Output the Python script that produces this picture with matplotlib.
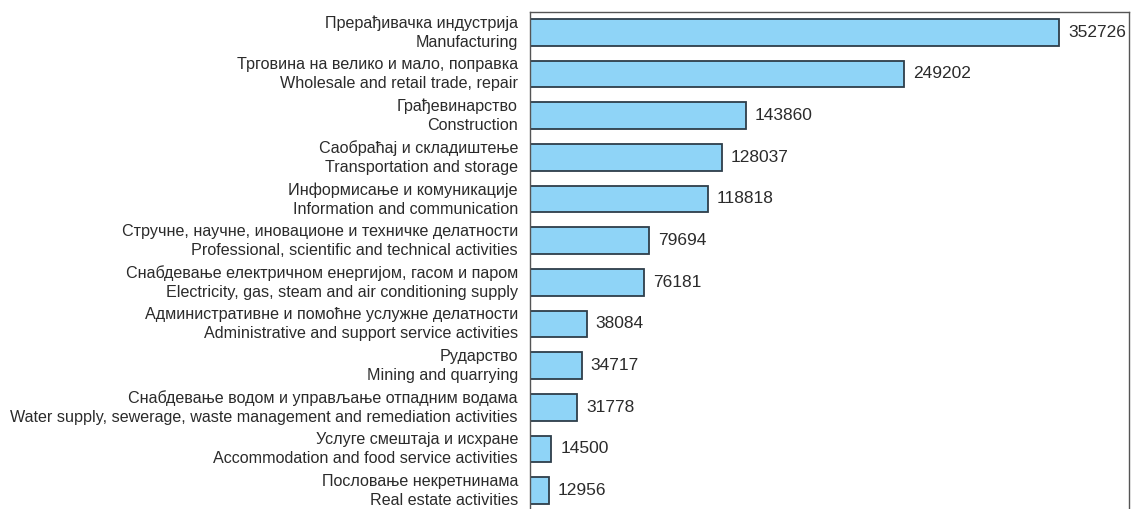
import matplotlib
matplotlib.use("Agg")
import matplotlib.pyplot as plt
from matplotlib.transforms import offset_copy

plt.rcParams['font.family'] = ['Liberation Sans', 'DejaVu Sans']

categories_sr = [
    "Прерађивачка индустрија",
    "Трговина на велико и мало, поправка",
    "Грађевинарство",
    "Саобраћај и складиштење",
    "Информисање и комуникације",
    "Стручне, научне, иновационе и техничке делатности",
    "Снабдевање електричном енергијом, гасом и паром",
    "Административне и помоћне услужне делатности",
    "Рударство",
    "Снабдевање водом и управљање отпадним водама",
    "Услуге смештаја и исхране",
    "Пословање некретнинама",
]
categories_en = [
    "Manufacturing",
    "Wholesale and retail trade, repair",
    "Construction",
    "Transportation and storage",
    "Information and communication",
    "Professional, scientific and technical activities",
    "Electricity, gas, steam and air conditioning supply",
    "Administrative and support service activities",
    "Mining and quarrying",
    "Water supply, sewerage, waste management and remediation activities",
    "Accommodation and food service activities",
    "Real estate activities",
]
values = [352726, 249202, 143860, 128037, 118818, 79694, 76181,
          38084, 34717, 31778, 14500, 12956]

W, H = 1131, 509
fig = plt.figure(figsize=(W / 100, H / 100), dpi=100)
ax = fig.add_axes([529.5 / W, 0, 599.5 / W, (H - 12.3) / H])

pos = list(range(len(values)))
bars = ax.barh(pos, values, height=0.64, color='#8fd4f7',
               edgecolor='#2e3e4a', linewidth=1.3)

ax.set_xlim(0, 399000)
ax.set_ylim(11.44, -0.48)
ax.set_yticks([])
ax.set_xticks([])

lab_tr = offset_copy(ax.transData, fig=fig, x=-8.3, y=-0.3, units='points')
for i, (s, e) in enumerate(zip(categories_sr, categories_en)):
    ax.text(0, i, f"{s}\n{e}", transform=lab_tr, ha='right', va='center',
            multialignment='right', linespacing=1.34, fontsize=11.6,
            color='#2b2b2b', clip_on=False)

ax.bar_label(bars, labels=[str(v) for v in values], padding=6.5,
             fontsize=12.5, color='#2b2b2b')

for side in ('top', 'left', 'right'):
    ax.spines[side].set_color('#555555')
    ax.spines[side].set_linewidth(1.0)
ax.spines['bottom'].set_visible(False)

fig.savefig("out.png", dpi=100)
